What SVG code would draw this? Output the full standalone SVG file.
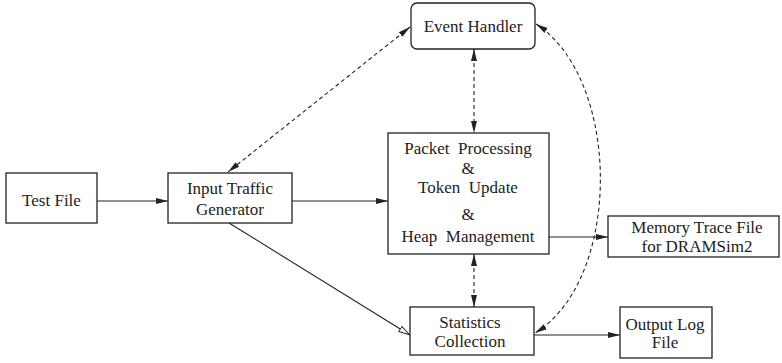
<svg xmlns="http://www.w3.org/2000/svg" width="782" height="363" viewBox="0 0 782 363">
<defs>
<style>
.box{fill:#fff;stroke:#222;stroke-width:1.3}
.t{font-family:'Liberation Serif','Times New Roman','DejaVu Serif',serif;font-size:17px;fill:#222;text-anchor:middle}
.c{fill:none;stroke:#222;stroke-width:1.1}
.d{stroke-dasharray:4 3}
</style>
<marker id="a" viewBox="0 0 12 8" refX="12" refY="4" markerWidth="12" markerHeight="8" orient="auto" markerUnits="userSpaceOnUse"><path d="M0,1 L12,4 L0,7 Z" fill="#222"/></marker>
<marker id="as" viewBox="0 0 12 8" refX="0" refY="4" markerWidth="12" markerHeight="8" orient="auto" markerUnits="userSpaceOnUse"><path d="M12,1 L0,4 L12,7 Z" fill="#222"/></marker>
<marker id="o" viewBox="0 0 12 8" refX="12" refY="4" markerWidth="12" markerHeight="8" orient="auto" markerUnits="userSpaceOnUse"><path d="M0.5,1 L11.5,4 L0.5,7 Z" fill="#fff" stroke="#222" stroke-width="0.9"/></marker>
</defs>
<g id="connectors">
<line class="c" x1="97" y1="201" x2="168" y2="201" marker-end="url(#a)"/>
<line class="c" x1="292" y1="201" x2="388" y2="201" marker-end="url(#a)"/>
<line class="c" x1="549" y1="237" x2="608" y2="237" marker-end="url(#a)"/>
<line class="c" x1="534" y1="335" x2="620" y2="335" marker-end="url(#a)"/>
<line class="c" x1="229" y1="223" x2="410" y2="335" marker-end="url(#o)"/>
<line class="c d" x1="410" y1="27" x2="228" y2="172" marker-start="url(#as)" marker-end="url(#a)"/>
<line class="c d" x1="474" y1="49" x2="474" y2="133" marker-start="url(#as)" marker-end="url(#a)"/>
<line class="c d" x1="474" y1="254" x2="474" y2="307" marker-start="url(#as)" marker-end="url(#a)"/>
<path class="c d" d="M536,24 C622,80 622,280 535,333" marker-start="url(#as)" marker-end="url(#a)"/>
</g>
<g id="test-file"><rect class="box" x="6" y="173" width="91" height="50"/><text class="t" x="51.5" y="206">Test File</text></g>
<g id="input-traffic-generator"><rect class="box" x="168" y="173" width="124" height="50"/><text class="t" x="230" y="194">Input Traffic</text><text class="t" x="230" y="215">Generator</text></g>
<g id="event-handler"><rect class="box" x="411" y="3" width="124" height="46" rx="6"/><text class="t" x="473" y="32">Event Handler</text></g>
<g id="packet-processing"><rect class="box" x="388" y="133" width="161" height="121"/>
<text class="t" x="468" y="154" xml:space="preserve">Packet  Processing</text>
<text class="t" x="468" y="174">&amp;</text>
<text class="t" x="468" y="193" xml:space="preserve">Token  Update</text>
<text class="t" x="468" y="220">&amp;</text>
<text class="t" x="468" y="242" xml:space="preserve">Heap  Management</text></g>
<g id="memory-trace-file"><rect class="box" x="608" y="216" width="171" height="41"/><text class="t" x="697" y="233">Memory Trace File</text><text class="t" x="697" y="252">for DRAMSim2</text></g>
<g id="statistics-collection"><rect class="box" x="410" y="307" width="124" height="48"/><text class="t" x="470" y="328">Statistics</text><text class="t" x="470" y="347">Collection</text></g>
<g id="output-log-file"><rect class="box" x="620" y="307" width="92" height="51"/><text class="t" x="665" y="330">Output Log</text><text class="t" x="665" y="348">File</text></g>
</svg>
